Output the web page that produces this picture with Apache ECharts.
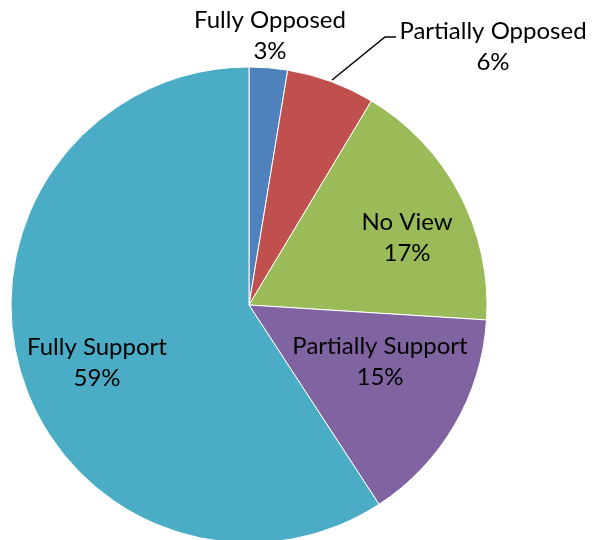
<!DOCTYPE html>
<html>
<head>
<meta charset="utf-8">
<script src="https://cdn.jsdelivr.net/npm/echarts@6/dist/echarts.min.js"></script>
<style>
  html, body { margin: 0; padding: 0; background: #fff; }
  #chart { width: 594px; height: 540px; }
</style>
</head>
<body>
<div id="chart"></div>
<script>
// slice names and shares (percent), clockwise from 12 o'clock
const categories = ["Fully Opposed", "Partially Opposed", "No View", "Partially Support", "Fully Support"];
const values = [2.6, 6.0, 17.4, 14.8, 59.2];
const colors = ["#4F81BD", "#C0504D", "#9BBB59", "#8064A2", "#4BACC6"];

// where each label sits (label centre), Excel-style placement
const labelPos = [
  [270, 36],
  [493, 47],
  [407, 238],
  [380, 362],
  [97, 363]
];

const chart = echarts.init(document.getElementById("chart"));

const option = {
  animation: false,
  series: [
    {
      type: "pie",
      center: [249, 305],
      radius: 238,
      startAngle: 90,
      clockwise: true,
      avoidLabelOverlap: false,
      data: categories.map((name, i) => ({
        name: name,
        value: values[i],
        itemStyle: { color: colors[i] },
        labelLine: { show: i === 1 }
      })),
      itemStyle: { borderColor: "#fff", borderWidth: 1 },
      label: {
        show: true,
        position: "outside",
        color: "#000",
        fontFamily: "Lato",
        fontSize: 24,
        lineHeight: 31,
        align: "center",
        overflow: "none",
        formatter: p => p.name + "\n" + Math.round(p.percent) + "%"
      },
      labelLine: {
        show: true,
        lineStyle: { color: "#000", width: 1.5 }
      },
      labelLayout: params => {
        const p = labelPos[params.dataIndex];
        const out = { x: p[0], y: p[1], align: "center", verticalAlign: "middle", hideOverlap: false };
        if (params.dataIndex === 1) {
          out.labelLinePoints = [[332, 80], [385, 37], [396, 37]];
        }
        return out;
      }
    }
  ]
};

chart.setOption(option);
</script>
</body>
</html>
